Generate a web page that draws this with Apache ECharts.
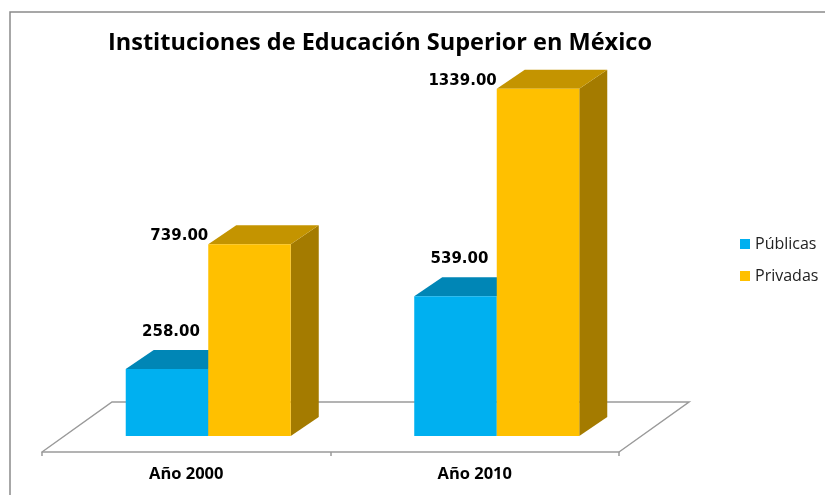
<!DOCTYPE html>
<html lang="es">
<head>
   <meta charset="utf-8">
   <title>Instituciones de Educación Superior en México</title>
   <script src="https://cdn.jsdelivr.net/npm/echarts@6/dist/echarts.min.js"></script>
   <style>
      html, body { margin: 0; padding: 0; background: #fff; }
      #chart { width: 825px; height: 495px; }
   </style>
</head>
<body>
   <div id="chart"></div>
   <script>
      var categories = ['Año 2000', 'Año 2010'];
      var seriesNames = ['Públicas', 'Privadas'];
      var publicas = [258, 539];
      var privadas = [739, 1339];

      // faces: front, top, side
      var cyanFaces = ['#00B0F0', '#0086B6', '#007AA6'];
      var goldFaces = ['#FFC000', '#C49400', '#A47B00'];

      var myChart = echarts.init(document.getElementById('chart'), null, { renderer: 'canvas' });

      // 3D offsets (pixels)
      var SHIFT_X = 22, SHIFT_Y = -16;   // bars sit in the middle of the floor depth
      var DEPTH_X = 28, DEPTH_Y = -19;   // bar depth
      var FLOOR_X = 70, FLOOR_Y = -50;   // floor depth

      function barRenderer(slot, faces) {
         return function (params, api) {
            var cat = api.value(0);
            var val = api.value(1);
            var base = api.coord([cat, 0]);
            var peak = api.coord([cat, val]);
            var band = api.size([1, 0])[0];
            var w = band * 0.286;
            var x0 = base[0] + SHIFT_X + (slot - 1) * w;
            var y0 = base[1] + SHIFT_Y;
            var y1 = peak[1] + SHIFT_Y;

            var label;
            if (slot === 0) {
               label = { x: x0 + w / 2 + 4, y: y1 - 37, align: 'center' };
            } else {
               label = { x: x0 + 0, y: y1 - 8, align: 'right' };
            }

            return {
               type: 'group',
               children: [
                  {
                     type: 'polygon',
                     shape: { points: [[x0 + w, y0], [x0 + w + DEPTH_X, y0 + DEPTH_Y], [x0 + w + DEPTH_X, y1 + DEPTH_Y], [x0 + w, y1]] },
                     style: { fill: faces[2] }
                  },
                  {
                     type: 'polygon',
                     shape: { points: [[x0, y1], [x0 + w, y1], [x0 + w + DEPTH_X, y1 + DEPTH_Y], [x0 + DEPTH_X, y1 + DEPTH_Y]] },
                     style: { fill: faces[1] }
                  },
                  {
                     type: 'rect',
                     shape: { x: x0, y: y1, width: w, height: y0 - y1 },
                     style: { fill: faces[0] }
                  },
                  {
                     type: 'text',
                     x: label.x,
                     y: label.y,
                     style: {
                        text: val.toFixed(2),
                        align: label.align,
                        verticalAlign: 'middle',
                        fill: '#000',
                        font: 'bold 15px "DejaVu Sans"'
                     }
                  }
               ]
            };
         };
      }

      function floorRenderer(params, api) {
         var band = api.size([1, 0])[0];
         var a = api.coord([0, 0]);
         var b = api.coord([categories.length - 1, 0]);
         var left = a[0] - band / 2;
         var right = b[0] + band / 2;
         var y = a[1];
         return {
            type: 'polyline',
            shape: { points: [[left, y], [left + FLOOR_X, y + FLOOR_Y], [right + FLOOR_X, y + FLOOR_Y], [right, y]] },
            style: { stroke: '#9a9a9a', lineWidth: 1.5, fill: null }
         };
      }

      var option = {
         animation: false,
         title: {
            text: 'Instituciones de Educación Superior en México',
            left: 103,
            top: 26,
            textStyle: {
               fontFamily: 'Open Sans',
               fontWeight: 'bold',
               fontSize: 23.5,
               color: '#000'
            }
         },
         legend: {
            data: seriesNames,
            orient: 'vertical',
            left: 735,
            top: 231,
            itemWidth: 10,
            itemHeight: 10,
            itemGap: 16,
            icon: 'rect',
            textStyle: { fontFamily: 'Open Sans', fontSize: 16, color: '#222' }
         },
         graphic: [
            {
               type: 'rect',
               shape: { x: 10, y: 12, width: 840, height: 520 },
               style: { fill: null, stroke: '#8a8a8a', lineWidth: 1.5 },
               silent: true
            }
         ],
         grid: {
            left: 42,
            right: 206,
            top: 63,
            bottom: 43
         },
         xAxis: {
            type: 'category',
            data: categories,
            axisLine: { lineStyle: { color: '#9a9a9a', width: 1.5 } },
            axisTick: { show: true, length: 4, lineStyle: { color: '#9a9a9a', width: 1.5 } },
            axisLabel: {
               margin: 14,
               fontFamily: 'Open Sans',
               fontWeight: 'bold',
               fontSize: 16.5,
               color: '#000'
            }
         },
         yAxis: {
            type: 'value',
            min: 0,
            max: 1500,
            show: false,
            splitLine: { show: false }
         },
         series: [
            {
               name: 'floor',
               type: 'custom',
               renderItem: floorRenderer,
               data: [[0, 0]],
               encode: { x: 0, y: 1 },
               silent: true
            },
            {
               name: seriesNames[0],
               type: 'custom',
               itemStyle: { color: cyanFaces[0] },
               renderItem: barRenderer(0, cyanFaces),
               data: publicas.map(function (v, i) { return [i, v]; }),
               encode: { x: 0, y: 1 }
            },
            {
               name: seriesNames[1],
               type: 'custom',
               itemStyle: { color: goldFaces[0] },
               renderItem: barRenderer(1, goldFaces),
               data: privadas.map(function (v, i) { return [i, v]; }),
               encode: { x: 0, y: 1 }
            }
         ]
      };

      myChart.setOption(option);
   </script>
</body>
</html>
